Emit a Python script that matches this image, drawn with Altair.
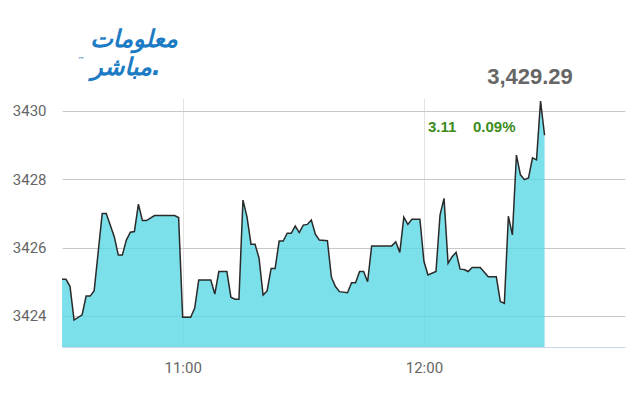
import altair as alt
import pandas as pd

times = ["10:30","10:31","10:32","10:33","10:35","10:36","10:37","10:38","10:40","10:41",
         "10:43","10:44","10:45","10:46","10:47","10:48","10:49","10:50","10:51","10:53",
         "10:58","10:59","11:00","11:02","11:03","11:04","11:07","11:08","11:09","11:11",
         "11:12","11:13","11:14","11:15","11:16","11:17","11:18","11:19","11:20","11:21",
         "11:22","11:23","11:24","11:25","11:26","11:27","11:28","11:29","11:30","11:31",
         "11:32","11:33","11:34","11:36","11:37","11:38","11:39","11:41","11:42","11:43",
         "11:44","11:45","11:46","11:47","11:52","11:53","11:54","11:55","11:56","11:57",
         "11:59","12:00","12:01","12:03","12:04","12:05","12:06","12:07","12:08","12:09",
         "12:10","12:11","12:12","12:14","12:16","12:18","12:19","12:20","12:21","12:22",
         "12:23","12:24","12:25","12:26","12:27","12:28","12:29","12:30"]
values = [3425.07,3425.07,3424.86,3423.88,3424.03,3424.58,3424.58,3424.74,3427.00,3427.00,
          3426.32,3425.78,3425.78,3426.22,3426.45,3426.47,3427.27,3426.79,3426.79,3426.94,
          3426.94,3426.88,3423.96,3423.96,3424.23,3425.05,3425.05,3424.64,3425.30,3425.30,
          3424.55,3424.49,3424.49,3427.39,3426.90,3426.10,3426.10,3425.69,3424.61,3424.73,
          3425.39,3425.39,3426.19,3426.19,3426.42,3426.42,3426.63,3426.44,3426.66,3426.68,
          3426.81,3426.39,3426.22,3426.20,3425.13,3424.86,3424.71,3424.68,3424.97,3424.97,
          3425.30,3425.30,3425.00,3426.05,3426.05,3426.17,3425.86,3426.89,3426.68,3426.83,
          3426.83,3425.60,3425.20,3425.30,3426.95,3427.44,3425.54,3425.73,3425.86,3425.37,
          3425.36,3425.30,3425.42,3425.42,3425.15,3425.15,3424.42,3424.37,3426.92,3426.37,
          3428.71,3428.13,3427.99,3428.04,3428.63,3428.57,3430.29,3429.29]

y_ticks = [3424, 3426, 3428, 3430]
y_min, y_max = 3423.09, 3430.38
last_label = "3,429.29"
change_label = "3.11"
pct_label = "0.09%"
logo_line1 = "معلومات"
logo_line2 = "مباشر."

df = pd.DataFrame({"t": ["2024-01-02T" + t + ":00" for t in times], "v": values})

W, H = 563, 249

x_scale = alt.Scale(domain=[alt.DateTime(year=2024, month=1, date=2, hours=10, minutes=30),
                            alt.DateTime(year=2024, month=1, date=2, hours=12, minutes=50)])
y_scale = alt.Scale(domain=[y_min, y_max], zero=False, nice=False)

x_enc = alt.X("t:T", scale=x_scale, title=None,
              axis=alt.Axis(values=[alt.DateTime(year=2024, month=1, date=2, hours=11),
                                    alt.DateTime(year=2024, month=1, date=2, hours=12)],
                            format="%H:%M", grid=True, gridColor="#e3e3e3", gridWidth=1,
                            ticks=False, domain=True, domainColor="#ccd6eb", domainWidth=1,
                            labelFont="'Liberation Sans Narrow', Roboto", labelFontSize=15,
                            labelColor="#666666", labelPadding=13))
y_enc = alt.Y("v:Q", scale=y_scale, title=None,
              axis=alt.Axis(values=y_ticks, format="d", grid=True, gridColor="#c8c8c8",
                            gridWidth=1, ticks=False, tickSize=0, domain=False,
                            labelFont="'Liberation Sans Narrow', Roboto", labelFontSize=15,
                            labelColor="#666666", labelPadding=16))

base = alt.Chart(df)
area = base.mark_area(color="#5ad8e5", opacity=0.8).encode(x=x_enc, y=y_enc, y2=alt.datum(y_min))
line = base.mark_line(color="#2a2a2a", strokeWidth=1.5).encode(x="t:T", y="v:Q")

txt = pd.DataFrame({"a": [0]})
tb = alt.Chart(txt)
t_last = tb.mark_text(text=last_label, font="Liberation Sans", fontWeight="bold", fontSize=22,
                      color="#666666", align="center", baseline="middle").encode(
    x=alt.value(468), y=alt.value(-21))
t_chg = tb.mark_text(text=change_label, font="Liberation Sans", fontWeight="bold", fontSize=15,
                     color="#3d8c1c", align="left", baseline="middle").encode(
    x=alt.value(366), y=alt.value(29))
t_pct = tb.mark_text(text=pct_label, font="Liberation Sans", fontWeight="bold", fontSize=15,
                     color="#3d8c1c", align="left", baseline="middle").encode(
    x=alt.value(411), y=alt.value(29))
t_logo1 = tb.mark_text(text=logo_line1, font="DejaVu Sans", fontWeight="bold", fontStyle="italic",
                       fontSize=24, color="#1b7bc4", align="center", baseline="middle").encode(
    x=alt.value(72), y=alt.value(-58))
t_logo2 = tb.mark_text(text=logo_line2, font="DejaVu Sans", fontWeight="bold", fontStyle="italic",
                       fontSize=24, color="#1b7bc4", align="center", baseline="middle").encode(
    x=alt.value(64), y=alt.value(-30))
t_tm = tb.mark_text(text="™", font="DejaVu Sans", fontSize=7, color="#1b7bc4",
                    align="center", baseline="middle").encode(x=alt.value(19), y=alt.value(-38))

chart = alt.layer(area, line, t_last, t_chg, t_pct, t_logo1, t_logo2, t_tm).properties(
    width=W, height=H,
    autosize=alt.AutoSizeParams(type="none"),
    padding={"left": 54, "top": 90, "right": 7, "bottom": 45},
    background="white",
).configure_view(stroke=None)

chart.save("out.html", embed_options={"renderer": "svg", "actions": False})
